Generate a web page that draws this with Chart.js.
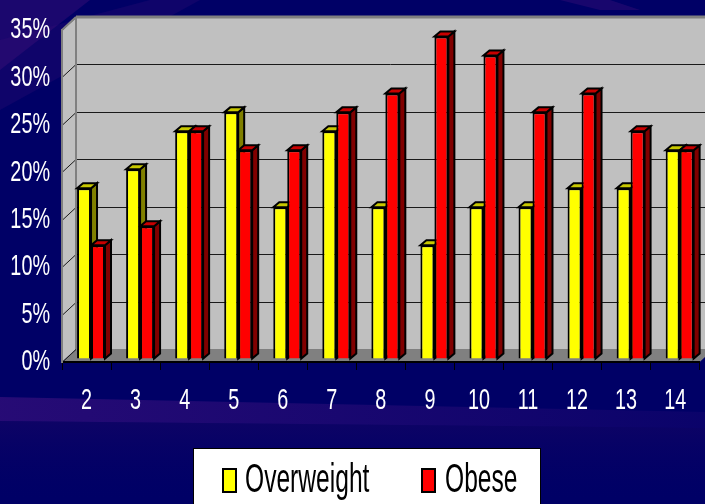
<!DOCTYPE html>
<html>
<head>
<meta charset="utf-8">
<script src="https://cdn.jsdelivr.net/npm/chart.js@4.4.1/dist/chart.umd.min.js"></script>
<style>
html,body{margin:0;padding:0;background:#000066;overflow:hidden;}
canvas{display:block;}
</style>
</head>
<body>
<canvas id="c" width="705" height="504"></canvas>
<script>
// ---- data ----
const categories = ['2','3','4','5','6','7','8','9','10','11','12','13','14'];
const overweight = [18,20,24,26,16,24,16,12,16,16,18,18,22];
const obese      = [12,14,24,22,22,26,28,34,32,26,28,24,22];
const seriesNames = ['Overweight','Obese'];
const yMax = 35, yStep = 5;

// ---- styling ----
const FONT = '"Liberation Sans",Arial,sans-serif';
const AXIS_SCALE = 0.66, LEGEND_SCALE = 0.6;
const DEPTH = {dx:14, dy:-13};     // wall depth
const BAR_SHIFT = {dx:4.5, dy:-3};  // bars sit in the middle of depth
const BAR_D = {dx:6, dy:-5};        // bar 3D depth
const COLORS = [
  {front:'#ffff00', top:'#c8c800', side:'#808000'},
  {front:'#ff0000', top:'#c80000', side:'#800000'}
];

const canvas = document.getElementById('c');
const ctx0 = canvas.getContext('2d');
let textScaleX = AXIS_SCALE;
const origFill = CanvasRenderingContext2D.prototype.fillText;
ctx0.fillText = function(t, x, y, mw){
  this.save();
  this.translate(x, y);
  this.scale(textScaleX, 1);
  origFill.call(this, t, 0, 0);
  this.restore();
};

function poly(ctx, pts, fill, stroke, lw){
  ctx.beginPath();
  ctx.moveTo(pts[0][0], pts[0][1]);
  for (let i=1;i<pts.length;i++) ctx.lineTo(pts[i][0], pts[i][1]);
  ctx.closePath();
  if (fill){ ctx.fillStyle = fill; ctx.fill(); }
  if (stroke){ ctx.strokeStyle = stroke; ctx.lineWidth = lw||1; ctx.stroke(); }
}

const scenePlugin = {
  id:'scene',
  beforeDraw(chart){
    const ctx = chart.ctx;
    const W = chart.width, H = chart.height;
    ctx.save();
    ctx.fillStyle = '#000066';
    ctx.fillRect(0,0,W,H);
    let g = ctx.createLinearGradient(0,0,705,0);
    g.addColorStop(0,'rgba(70,20,130,0.55)');
    g.addColorStop(1,'rgba(70,20,130,0.15)');
    poly(ctx, [[0,397],[705,412],[705,428],[0,421]], g);
    g = ctx.createLinearGradient(0,420,0,504);
    g.addColorStop(0,'rgba(40,10,100,0.35)');
    g.addColorStop(1,'rgba(0,0,102,0)');
    poly(ctx, [[0,421],[705,428],[705,504],[0,504]], g);
    poly(ctx, [[0,0],[90,0],[0,70]], 'rgba(60,15,120,0.45)');
    poly(ctx, [[0,40],[150,0],[200,0],[0,110]], 'rgba(60,15,120,0.25)');
    poly(ctx, [[560,0],[610,0],[640,10],[600,10]], 'rgba(60,15,120,0.4)');

    const a = chart.chartArea;
    const L=a.left, R=a.right, T=a.top, B=a.bottom;
    const dx=DEPTH.dx, dy=DEPTH.dy;
    poly(ctx, [[L+dx,T+dy],[R+dx+20,T+dy],[R+dx+20,B+dy],[L+dx,B+dy]], '#c0c0c0');
    poly(ctx, [[L,T],[L+dx,T+dy],[L+dx,B+dy],[L,B]], '#c0c0c0');
    poly(ctx, [[L,B],[R,B],[R+dx,B+dy],[L+dx,B+dy]], '#808080');
    const ys = chart.scales.y;
    ctx.lineWidth = 1;
    ys.ticks.forEach(t => {
      const py = Math.round(ys.getPixelForValue(t.value)) + 0.5;
      ctx.strokeStyle = '#1a1a1a';
      if (t.value > 0 && t.value < yMax) {
        ctx.beginPath(); ctx.moveTo(L+dx, py+dy); ctx.lineTo(W, py+dy); ctx.stroke();
      }
      ctx.beginPath(); ctx.moveTo(L, py); ctx.lineTo(L+dx, py+dy); ctx.stroke();
    });
    ctx.strokeStyle = '#808080';
    ctx.lineWidth = 3;
    ctx.beginPath(); ctx.moveTo(L+dx, T+dy); ctx.lineTo(W, T+dy); ctx.stroke();
    ctx.lineWidth = 2;
    ctx.beginPath(); ctx.moveTo(L+dx, T+dy); ctx.lineTo(L+dx, B+dy); ctx.stroke();
    ctx.beginPath(); ctx.moveTo(L, T); ctx.lineTo(L+dx, T+dy); ctx.stroke();
    ctx.restore();
  },
  beforeDatasetsDraw(chart){
    const ctx = chart.ctx;
    ctx.save();
    ctx.translate(BAR_SHIFT.dx, BAR_SHIFT.dy);
    const bdx=BAR_D.dx, bdy=BAR_D.dy;
    chart.data.datasets.forEach((ds, di) => {
      const meta = chart.getDatasetMeta(di);
      const c = COLORS[di];
      meta.data.forEach(el => {
        const p = el.getProps(['x','y','base','width'], true);
        const l = p.x - p.width/2, r = p.x + p.width/2, top = p.y, bot = p.base;
        ctx.lineJoin = 'miter';
        poly(ctx, [[r,top],[r+bdx,top+bdy],[r+bdx,bot+bdy],[r,bot]], c.side, '#000', 2);
        poly(ctx, [[l,top],[l+bdx,top+bdy],[r+bdx,top+bdy],[r,top]], c.top, '#000', 2);
      });
    });
  },
  afterDatasetsDraw(chart){
    chart.ctx.restore();
  },
  afterDraw(chart){
    const ctx = chart.ctx;
    ctx.save();
    ctx.fillStyle = '#ffffff';
    ctx.fillRect(193.5, 448.5, 347, 70);
    ctx.strokeStyle = '#000000';
    ctx.lineWidth = 1;
    ctx.strokeRect(193.5, 448.5, 347, 70);
    const items = [
      {x:223, tx:245},
      {x:422, tx:445}
    ];
    chart.data.datasets.forEach((ds, i) => {
      const it = items[i];
      ctx.fillStyle = ds.backgroundColor;
      ctx.fillRect(it.x, 469, 13, 23);
      ctx.strokeStyle = '#000';
      ctx.lineWidth = 2;
      ctx.strokeRect(it.x, 469, 13, 23);
      ctx.fillStyle = '#000';
      ctx.font = '41px ' + FONT;
      ctx.textAlign = 'left';
      ctx.textBaseline = 'alphabetic';
      textScaleX = LEGEND_SCALE;
      ctx.fillText(ds.label, it.tx, 492);
      textScaleX = AXIS_SCALE;
    });
    ctx.restore();
  }
};

new Chart(canvas, {
  type:'bar',
  data:{
    labels: categories,
    datasets:[
      {label:seriesNames[0], data:overweight, backgroundColor:COLORS[0].front, borderColor:'#000', borderWidth:2, categoryPercentage:0.57, barPercentage:1.0},
      {label:seriesNames[1], data:obese, backgroundColor:COLORS[1].front, borderColor:'#000', borderWidth:2, categoryPercentage:0.57, barPercentage:1.0}
    ]
  },
  options:{
    responsive:false,
    animation:false,
    events:[],
    layout:{padding:{top:25, right:4, left:0, bottom:0}},
    plugins:{legend:{display:false}, tooltip:{enabled:false}},
    scales:{
      x:{
        offset:true,
        grid:{offset:true, drawOnChartArea:false, drawTicks:true, tickLength:8, color:'#000000', lineWidth:1},
        border:{display:true, color:'#000000', width:2},
        ticks:{color:'#ffffff', font:{family:FONT, size:30}, padding:13, autoSkip:false, maxRotation:0, minRotation:0},
        afterFit(s){ s.height = 142; }
      },
      y:{
        min:0, max:yMax,
        grid:{display:true, drawOnChartArea:false, drawTicks:false},
        border:{display:true, color:'#808080', width:2},
        ticks:{stepSize:yStep, color:'#ffffff', font:{family:FONT, size:30}, padding:12, callback:v => v + '%'},
        afterFit(s){ s.width = 62; }
      }
    }
  },
  plugins:[scenePlugin]
});
</script>
</body>
</html>
